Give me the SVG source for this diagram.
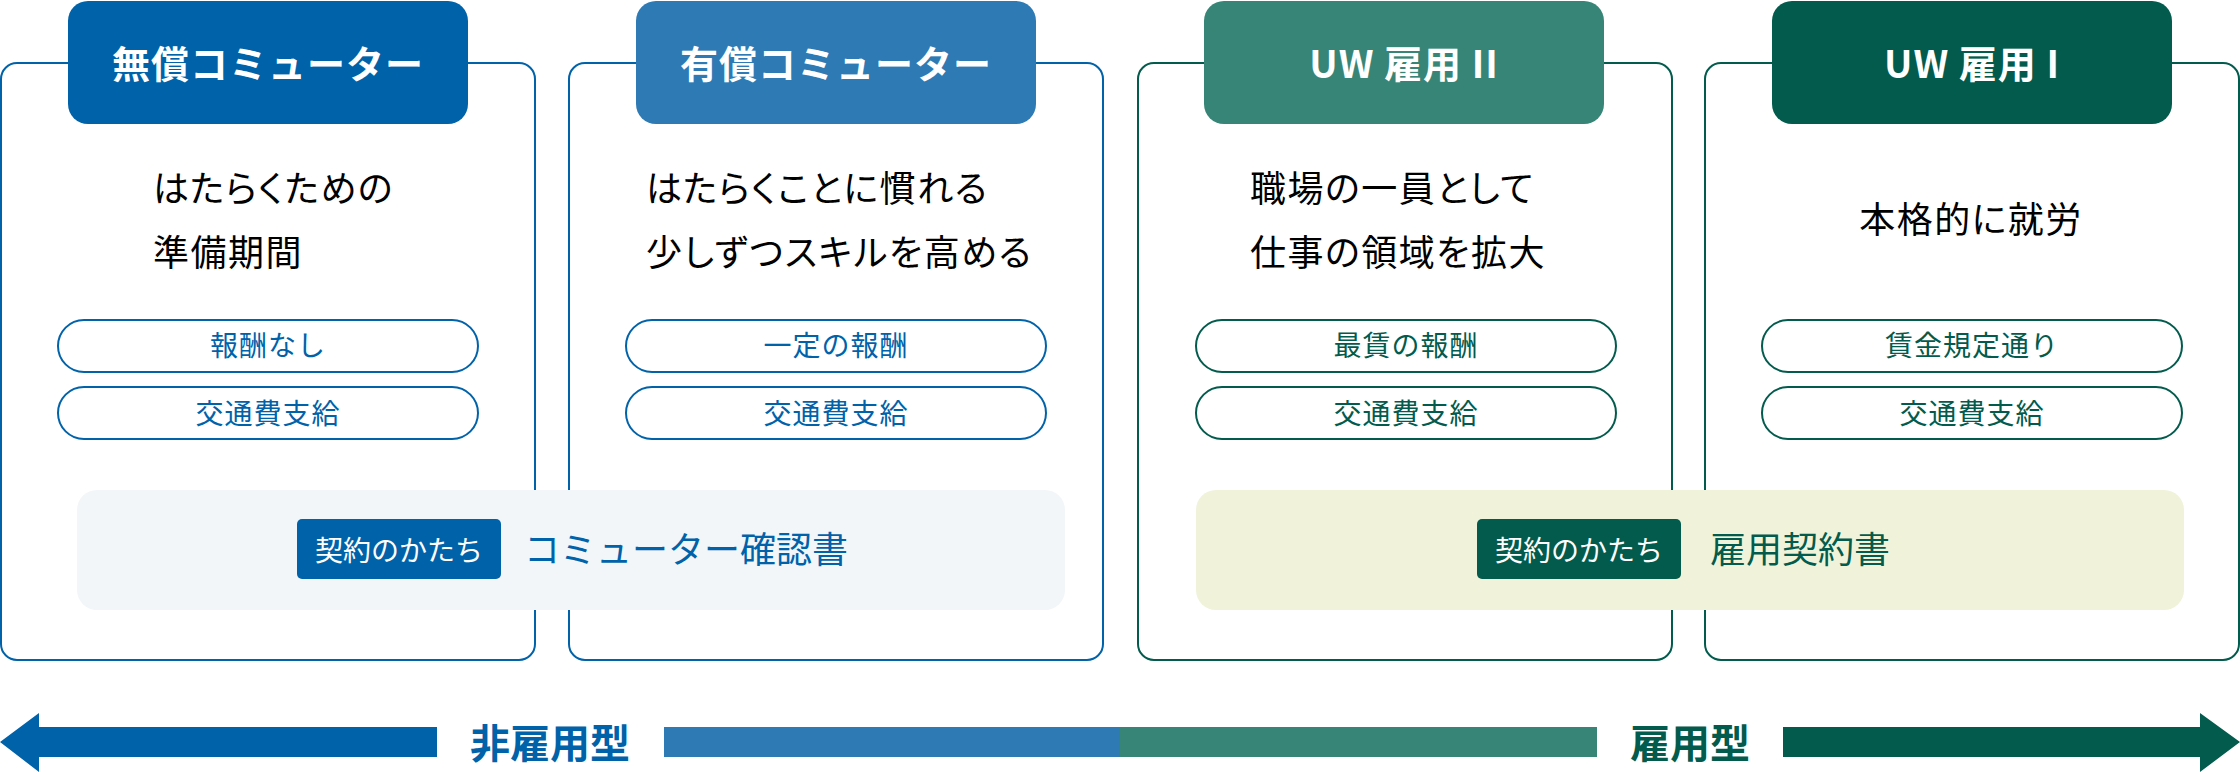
<svg xmlns="http://www.w3.org/2000/svg" width="2240" height="772" viewBox="0 0 2240 772">
<style>
text{font-family:"Noto Sans CJK JP","Noto Sans",sans-serif;}
.card{fill:#ffffff;stroke-width:2;}
.b{stroke:#0062a9;}
.g{stroke:#025b4c;}
.tabt{fill:#ffffff;font-size:38px;font-weight:700;text-anchor:middle;letter-spacing:1px;}
.body{fill:#000000;font-size:36px;letter-spacing:1.5px;font-feature-settings:"palt";}
.pill{fill:#ffffff;stroke-width:2;}
.pillt{font-size:28px;text-anchor:middle;letter-spacing:1px;}
.badget{fill:#ffffff;font-size:28px;text-anchor:middle;}
.doc{font-size:36px;}
.axis{font-size:40px;font-weight:700;}
</style>

<g id="card-1">
<rect class="card b" x="1" y="63" width="534" height="597" rx="16"/>
<rect x="68" y="1" width="400" height="123" rx="20" fill="#0062a9"/>
<text class="tabt" x="268" y="78">無償コミューター</text>
<text class="body" x="153" y="202">はたらくための</text>
<text class="body" x="153" y="266">準備期間</text>
<rect class="pill b" x="58" y="320" width="420" height="52" rx="26"/>
<text class="pillt" x="268" y="356" fill="#0062a9">報酬なし</text>
<rect class="pill b" x="58" y="387" width="420" height="52" rx="26"/>
<text class="pillt" x="268" y="424" fill="#0062a9">交通費支給</text>
</g>

<g id="card-2">
<rect class="card b" x="569" y="63" width="534" height="597" rx="16"/>
<rect x="636" y="1" width="400" height="123" rx="20" fill="#2d7ab4"/>
<text class="tabt" x="836" y="78">有償コミューター</text>
<text class="body" x="646" y="202">はたらくことに慣れる</text>
<text class="body" x="646" y="266">少しずつスキルを高める</text>
<rect class="pill b" x="626" y="320" width="420" height="52" rx="26"/>
<text class="pillt" x="836" y="356" fill="#0062a9">一定の報酬</text>
<rect class="pill b" x="626" y="387" width="420" height="52" rx="26"/>
<text class="pillt" x="836" y="424" fill="#0062a9">交通費支給</text>
</g>

<g id="card-3">
<rect class="card g" x="1138" y="63" width="534" height="597" rx="16"/>
<rect x="1204" y="1" width="400" height="123" rx="20" fill="#378576"/>
<text class="tabt" x="1404" y="78">UW 雇用 II</text>
<text class="body" x="1250" y="202">職場の一員として</text>
<text class="body" x="1250" y="266">仕事の領域を拡大</text>
<rect class="pill g" x="1196" y="320" width="420" height="52" rx="26"/>
<text class="pillt" x="1406" y="356" fill="#025b4c">最賃の報酬</text>
<rect class="pill g" x="1196" y="387" width="420" height="52" rx="26"/>
<text class="pillt" x="1406" y="424" fill="#025b4c">交通費支給</text>
</g>

<g id="card-4">
<rect class="card g" x="1705" y="63" width="534" height="597" rx="16"/>
<rect x="1772" y="1" width="400" height="123" rx="20" fill="#025b4c"/>
<text class="tabt" x="1972" y="78">UW 雇用 I</text>
<text class="body" x="1971" y="233" text-anchor="middle">本格的に就労</text>
<rect class="pill g" x="1762" y="320" width="420" height="52" rx="26"/>
<text class="pillt" x="1972" y="356" fill="#025b4c">賃金規定通り</text>
<rect class="pill g" x="1762" y="387" width="420" height="52" rx="26"/>
<text class="pillt" x="1972" y="424" fill="#025b4c">交通費支給</text>
</g>

<g id="contract-1">
<rect x="77" y="490" width="988" height="120" rx="20" fill="#f2f6f9"/>
<rect x="297" y="519" width="204" height="60" rx="5" fill="#0062a9"/>
<text class="badget" x="399" y="561">契約のかたち</text>
<text class="doc" x="524" y="563" fill="#0062a9">コミューター確認書</text>
</g>

<g id="contract-2">
<rect x="1196" y="490" width="988" height="120" rx="20" fill="#f0f3da"/>
<rect x="1477" y="519" width="204" height="60" rx="5" fill="#025b4c"/>
<text class="badget" x="1579" y="561">契約のかたち</text>
<text class="doc" x="1710" y="563" fill="#025b4c">雇用契約書</text>
</g>

<g id="connectors">
<polygon points="0,742 39,713 39,727 437,727 437,757 39,757 39,772" fill="#0062a9"/>
<text class="axis" x="470" y="758" fill="#0062a9">非雇用型</text>
<rect x="664" y="727" width="456" height="30" fill="#2d7ab4"/>
<rect x="1120" y="727" width="477" height="30" fill="#378576"/>
<text class="axis" x="1630" y="758" fill="#025b4c">雇用型</text>
<polygon points="1783,727 2200,727 2200,713 2240,742 2200,772 2200,757 1783,757" fill="#025b4c"/>
</g>
</svg>
